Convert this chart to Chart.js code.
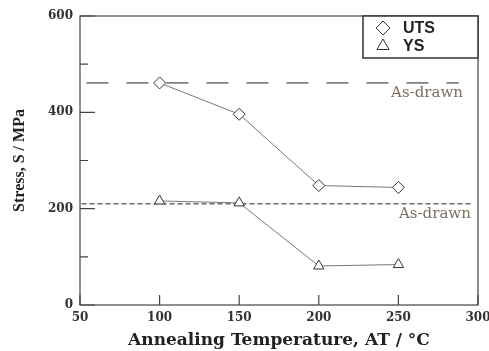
<!DOCTYPE html>
<html>
<head>
<meta charset="utf-8">
<script src="https://cdn.jsdelivr.net/npm/chart.js@4.4.1/dist/chart.umd.min.js"></script>
<style>
  html, body { margin: 0; padding: 0; background: #fff; }
  #wrap { width: 489px; height: 351px; }
</style>
</head>
<body>
<div id="wrap"><canvas id="stressChart"></canvas></div>
<script>
// Data
const temps = [100, 150, 200, 250];
const utsValues = [461, 396, 248, 244];
const ysValues = [216, 212, 81, 84];
const asDrawnUTS = 461;
const asDrawnYS = 210;
const utsRefX = [54, 288];
const ysRefX = [51, 296];
const xTicks = [50, 100, 150, 200, 250, 300];
const yTicks = [0, 200, 400, 600];

const toPoints = (xs, ys) => xs.map((x, i) => ({ x: x, y: ys[i] }));

// frame, inward ticks, legend box and "As-drawn" notes
const decorPlugin = {
    id: 'decor',
    afterDraw(chart) {
        const ctx = chart.ctx;
        const a = chart.chartArea;
        const xs = chart.scales.x;
        const ys = chart.scales.y;
        ctx.save();

        // axis frame
        ctx.strokeStyle = '#444';
        ctx.lineWidth = 1.2;
        ctx.strokeRect(a.left, a.top, a.right - a.left, a.bottom - a.top);

        // inward ticks
        ctx.beginPath();
        xTicks.forEach(v => {
            const px = xs.getPixelForValue(v);
            ctx.moveTo(px, a.bottom);
            ctx.lineTo(px, a.bottom - 10);
        });
        for (let v = 0; v <= 600; v += 100) {
            const py = ys.getPixelForValue(v);
            const len = yTicks.includes(v) ? 15 : 8;
            ctx.moveTo(a.left, py);
            ctx.lineTo(a.left + len, py);
        }
        ctx.stroke();

        // "As-drawn" notes
        ctx.fillStyle = '#7d6f60';
        ctx.font = '15px "DejaVu Serif", serif';
        ctx.textAlign = 'right';
        ctx.textBaseline = 'middle';
        ctx.fillText('As-drawn', xs.getPixelForValue(290.5), ys.getPixelForValue(asDrawnUTS) + 10);
        ctx.fillText('As-drawn', xs.getPixelForValue(295.5), ys.getPixelForValue(asDrawnYS) + 10);

        // legend box in the top right corner
        const bx = 363, by = a.top, bw = a.right - bx, bh = 42;
        ctx.fillStyle = '#fff';
        ctx.fillRect(bx, by, bw, bh);
        ctx.strokeStyle = '#333';
        ctx.lineWidth = 1.5;
        ctx.strokeRect(bx, by, bw, bh);
        const items = [
            { text: 'UTS', style: 'rectRot', y: by + 12 },
            { text: 'YS', style: 'triangle', y: by + 30 }
        ];
        items.forEach(it => {
            ctx.strokeStyle = '#333';
            ctx.fillStyle = '#fff';
            ctx.lineWidth = 1;
            Chart.helpers.drawPoint(ctx, { pointStyle: it.style, radius: 7, rotation: 0, borderWidth: 1 }, bx + 20, it.y);
            ctx.fillStyle = '#222';
            ctx.font = 'bold 16px "Liberation Sans", Arial, sans-serif';
            ctx.textAlign = 'left';
            ctx.fillText(it.text, bx + 40, it.y + 1);
        });
        ctx.restore();
    }
};

const ctx = document.getElementById('stressChart').getContext('2d');

new Chart(ctx, {
    type: 'line',
    data: {
        datasets: [
            {
                label: 'UTS',
                data: toPoints(temps, utsValues),
                borderColor: '#777',
                borderWidth: 1,
                pointStyle: 'rectRot',
                pointRadius: 6,
                pointBackgroundColor: '#fff',
                pointBorderColor: '#333',
                pointBorderWidth: 1
            },
            {
                label: 'YS',
                data: toPoints(temps, ysValues),
                borderColor: '#777',
                borderWidth: 1,
                pointStyle: 'triangle',
                pointRadius: 6,
                pointBackgroundColor: '#fff',
                pointBorderColor: '#333',
                pointBorderWidth: 1
            },
            {
                label: 'As-drawn UTS',
                data: toPoints(utsRefX, [asDrawnUTS, asDrawnUTS]),
                borderColor: '#222',
                borderWidth: 1,
                borderDash: [22, 18],
                pointRadius: 0
            },
            {
                label: 'As-drawn YS',
                data: toPoints(ysRefX, [asDrawnYS, asDrawnYS]),
                borderColor: '#222',
                borderWidth: 1,
                borderDash: [5, 3],
                pointRadius: 0
            }
        ]
    },
    options: {
        responsive: true,
        maintainAspectRatio: false,
        animation: false,
        layout: { padding: { top: 16, right: 11, left: 0, bottom: 0 } },
        plugins: {
            legend: { display: false },
            tooltip: { enabled: false }
        },
        scales: {
            x: {
                type: 'linear',
                min: 50,
                max: 300,
                grid: { display: false, drawTicks: false },
                border: { display: false },
                afterBuildTicks: s => { s.ticks = xTicks.map(v => ({ value: v })); },
                afterFit: s => { s.height = 46; s.paddingRight = 0; s.paddingLeft = 0; },
                ticks: {
                    color: '#333',
                    padding: 6,
                    font: { family: '"DejaVu Serif", serif', size: 12, weight: 'bold' }
                },
                title: {
                    display: true,
                    text: 'Annealing Temperature, AT / °C',
                    color: '#222',
                    padding: { top: 0, bottom: 0 },
                    font: { family: '"DejaVu Serif", serif', size: 17, weight: 'bold' }
                }
            },
            y: {
                type: 'linear',
                min: 0,
                max: 600,
                grid: { display: false, drawTicks: false },
                border: { display: false },
                afterBuildTicks: s => { s.ticks = yTicks.map(v => ({ value: v })); },
                afterFit: s => { s.width = 80; },
                ticks: {
                    color: '#333',
                    padding: 7,
                    font: { family: '"DejaVu Serif", serif', size: 12, weight: 'bold' }
                },
                title: {
                    display: true,
                    text: 'Stress, S / MPa',
                    color: '#222',
                    padding: { top: 10, bottom: 0 },
                    font: { family: '"Liberation Serif", serif', size: 16, weight: 'bold' }
                }
            }
        }
    },
    plugins: [decorPlugin]
});
</script>
</body>
</html>
